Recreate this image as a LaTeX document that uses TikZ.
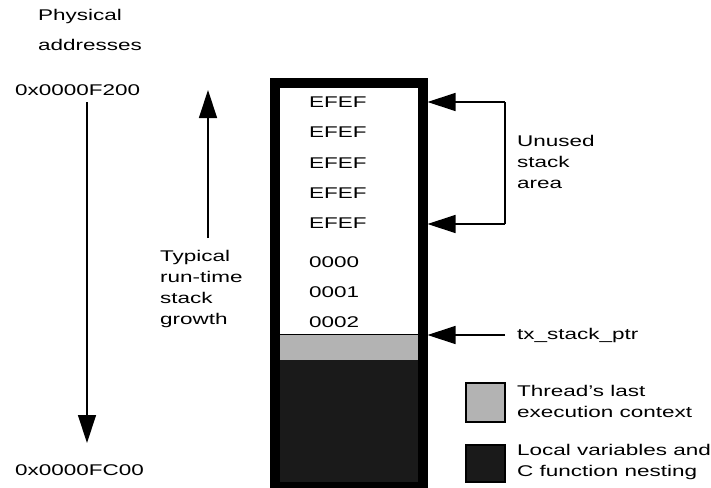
\documentclass[tikz,border=0pt]{standalone}
\usepackage{fontspec}
\setmainfont{Liberation Sans}[FakeStretch=1.45]
\usetikzlibrary{arrows.meta}

\definecolor{ctxgray}{HTML}{B3B3B3}
\definecolor{localdark}{HTML}{1A1A1A}

\tikzset{
  lbl/.style={anchor=west, inner sep=0pt, align=left, font=\fontsize{15.5}{21}\selectfont},
  ptr/.style={-{Triangle[length=28pt,width=18pt]}, line width=1.3pt},
}

\begin{document}
\begin{tikzpicture}[x=1pt, y=-1pt]
  \useasboundingbox (0,0) rectangle (711,487);

  % Address column
  \node[lbl] (physaddr) at (38,30) {Physical\\[9pt]addresses};
  \node[lbl] (topaddr) at (15,90) {0x0000F200};
  \node[lbl] (botaddr) at (15,470) {0x0000FC00};
  \coordinate (downtop) at (87,102);
  \coordinate (downbot) at (87,443);
  \draw[ptr] (downtop) -- (downbot);

  % Growth arrow
  \node[lbl] (growth) at (160,289) {Typical\\run-time\\stack\\growth};
  \coordinate (growbot) at (208,238);
  \coordinate (growtop) at (208,90);
  \draw[ptr] (growbot) -- (growtop);

  % Stack contents
  \fill[ctxgray] (270,334) rectangle (418,360);
  \fill[localdark] (270,360) rectangle (418,482);
  \draw[line width=1pt] (270,334) -- (418,334);
  \node[draw, line width=9.5pt, minimum width=148pt, minimum height=404pt,
        inner sep=0pt, anchor=north west] (stack) at (270,78) {};
  \foreach \y [count=\i] in {102,132,163,193,223}
    \node[lbl] (efef\i) at (309,\y) {EFEF};
  \foreach \y/\w in {262/0000,292/0001,322/0002}
    \node[lbl] (word\w) at (309,\y) {\w};

  % Unused area bracket
  \coordinate (unusedtop) at (505,102);
  \coordinate (unusedbot) at (505,224);
  \draw[line width=1.3pt] (unusedtop) -- (unusedbot);
  \draw[ptr] (unusedtop) -- (unusedtop -| stack.east);
  \draw[ptr] (unusedbot) -- (unusedbot -| stack.east);
  \node[lbl] (unused) at (517,162) {Unused\\stack\\area};

  % Stack pointer
  \coordinate (spstart) at (505,335);
  \draw[ptr] (spstart) -- (spstart -| stack.east);
  \node[lbl] (spname) at (517,335) {tx\_stack\_ptr};

  % Legend
  \draw[line width=1.8pt, fill=ctxgray] (466,383) rectangle (505,422);
  \node[lbl] (ctxkey) at (517,401) {Thread's last\\execution context};
  \draw[line width=1.8pt, fill=localdark] (466,445) rectangle (505,482);
  \node[lbl] (localkey) at (517,462) {Local variables and\\C function nesting};
\end{tikzpicture}
\end{document}
